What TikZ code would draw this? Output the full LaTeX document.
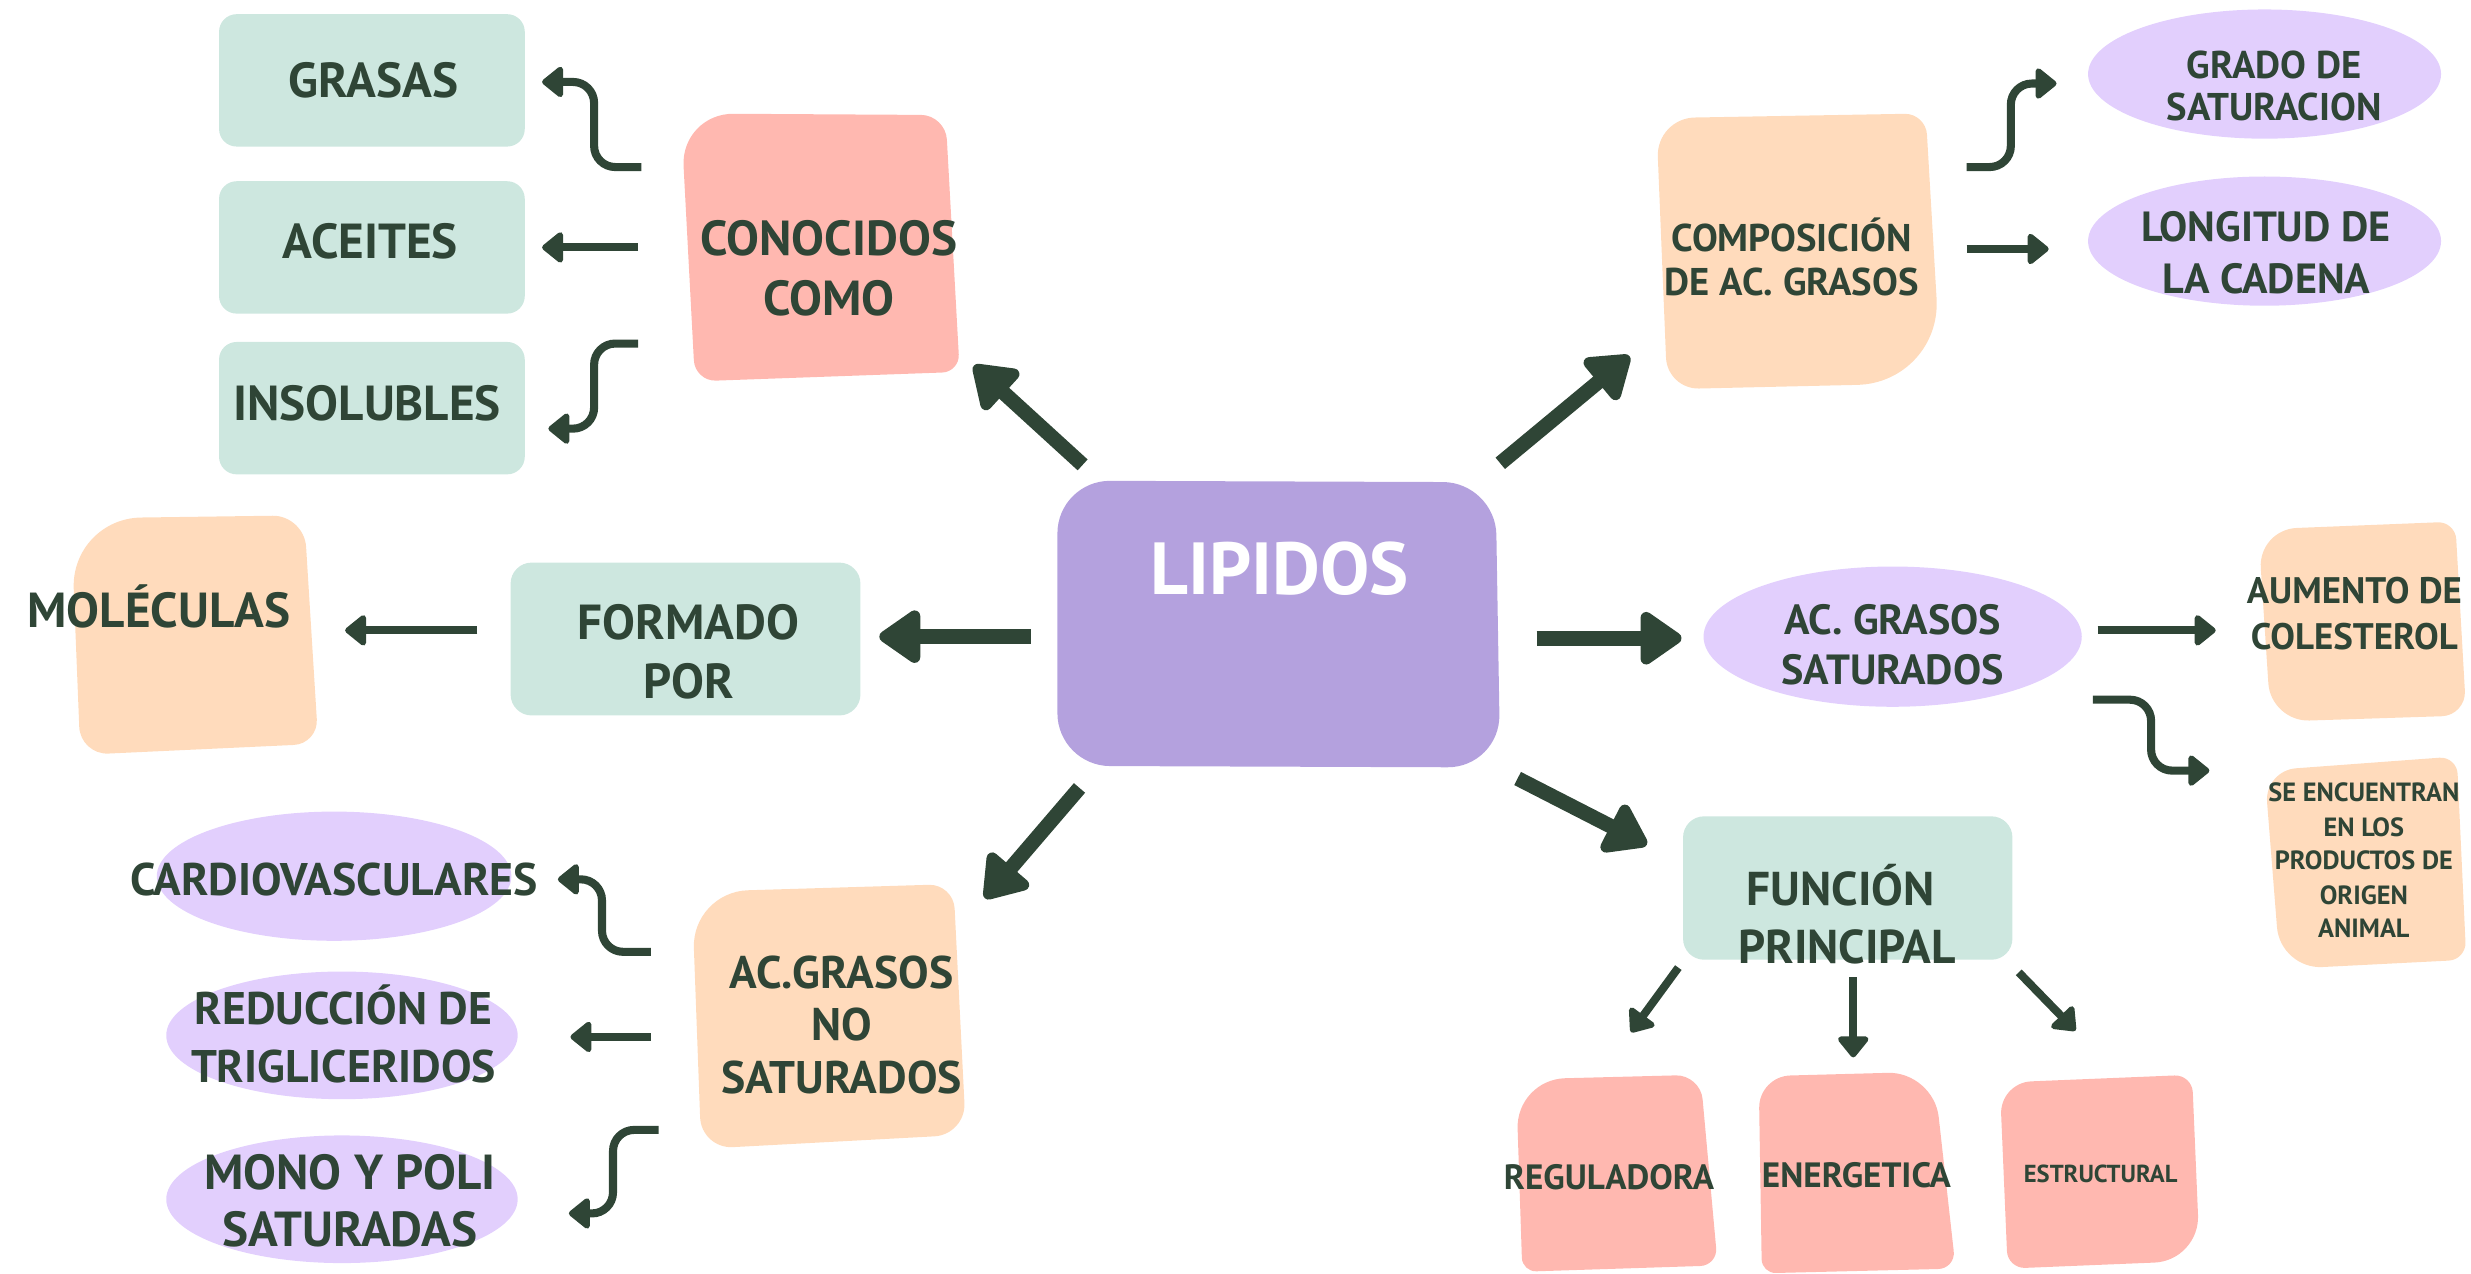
\documentclass[tikz,border=0pt]{standalone}
\usepackage{fontspec}
\setmainfont{PT Sans}
\usetikzlibrary{arrows.meta,calc,shapes.geometric,fit}
\definecolor{ink}{HTML}{2F4536}
\definecolor{mint}{HTML}{CDE7DF}
\definecolor{salmon}{HTML}{FFB8B0}
\definecolor{peach}{HTML}{FFDBBC}
\definecolor{lav}{HTML}{E2CFFD}
\definecolor{purp}{HTML}{B4A1DE}
% hand-drawn box: colour, TL, TR, BR, BL, radii TL TR BR BL
\newcommand\handbox[9]{\fill[#1] ($(#2)!0.5!(#5)$) [rounded corners=#6] -- (#2) [rounded corners=#7] -- (#3) [rounded corners=#8] -- (#4) [rounded corners=#9] -- (#5) -- cycle;}
\begin{document}
\begin{tikzpicture}[x=0.015759cm,y=-0.015759cm,
  box/.style={inner sep=0pt, rounded corners=5pt},
  frame/.style={inner sep=0pt},
  blob/.style={ellipse, inner sep=0pt, fill=lav},
  t/.style={text=ink, inner sep=0pt, anchor=base, yshift=-#1*0.35pt, font=\bfseries\fontsize{#1}{#1}\selectfont},
  thinarrow/.style={draw=ink, line width=2.3pt, -{Triangle[length=6.5pt,width=10pt,round]}},
  bigarrow/.style={draw=ink, line width=4.2pt, -{Triangle[length=13pt,width=17pt,round]}},
  elbow/.style={thinarrow, rounded corners=6pt}]
\useasboundingbox (0,0) rectangle (1568,808);

% ---------- boxes ----------
\node[box, fill=mint, fit={(139,9) (333,93)}] (grasas) {};
\node[t=14] (grasas-t) at (237,51) {GRASAS};
\node[box, fill=mint, fit={(139,115) (333,199)}] (aceites) {};
\node[t=14] (aceites-t) at (235,153) {ACEITES};
\node[box, fill=mint, fit={(139,217) (333,301)}] (insol) {};
\node[t=14] (insol-t) at (233,256) {INSOLUBLES};
\handbox{salmon}{432,72}{600,73}{609,236}{441,242}{15pt}{7pt}{5pt}{6pt}
\node[frame, fit={(432,72) (609,242)}] (conoc) {};
\node[t=14] (conoc-t1) at (526,151) {CONOCIDOS};
\node[t=14] (conoc-t2) at (526,189) {COMO};

\handbox{purp}{671,305}{949,306}{952,487}{671,486}{15pt}{15pt}{15pt}{15pt}
\node[frame, fit={(671,305) (952,487)}] (lip) {};
\node[t=21, text=white] (lip-t) at (812,361) {LIPIDOS};

\node[box, fill=mint, rounded corners=6pt, fit={(324,357) (546,454)}] (form) {};
\node[t=14] (form-t1) at (437,395) {FORMADO};
\node[t=14] (form-t2) at (437,432) {POR};
\handbox{peach}{45,329}{193,327}{202,472}{51,479}{20pt}{9pt}{7pt}{8pt}
\node[frame, fit={(45,327) (202,479)}] (mol) {};
\node[t=14] (mol-t) at (101,387) {MOLÉCULAS};

\handbox{peach}{439,566}{605,561}{613,720}{445,729}{16pt}{7pt}{9pt}{9pt}
\node[frame, fit={(439,561) (613,729)}] (nosat) {};
\node[t=13] (nosat-t1) at (534,617) {AC.GRASOS};
\node[t=13] (nosat-t2) at (534,650) {NO};
\node[t=13] (nosat-t3) at (534,684) {SATURADOS};
\node[blob, minimum width=225*0.015759cm, minimum height=82*0.015759cm] (cardio) at (212,556) {};
\node[t=13] (cardio-t) at (212,558) {CARDIOVASCULARES};
\node[blob, minimum width=223*0.015759cm, minimum height=81*0.015759cm] (reduc) at (217,657) {};
\node[t=13] (reduc-t1) at (218,640) {REDUCCIÓN DE};
\node[t=13] (reduc-t2) at (218,677) {TRIGLICERIDOS};
\node[blob, minimum width=223*0.015759cm, minimum height=81*0.015759cm] (mono) at (217,761) {};
\node[t=14] (mono-t1) at (222,744) {MONO Y POLI};
\node[t=14] (mono-t2) at (222,780) {SATURADAS};

\handbox{peach}{1051,75}{1222,72}{1232,243}{1058,247}{11pt}{6pt}{24pt}{9pt}
\node[frame, fit={(1050,72) (1232,247)}] (comp) {};
\node[t=11] (comp-t1) at (1137,151) {COMPOSICIÓN};
\node[t=11] (comp-t2) at (1137,179) {DE AC. GRASOS};
\node[blob, minimum width=224*0.015759cm, minimum height=82*0.015759cm] (grado) at (1437,47) {};
\node[t=11] (grado-t1) at (1443,41) {GRADO DE};
\node[t=11] (grado-t2) at (1443,68) {SATURACION};
\node[blob, minimum width=224*0.015759cm, minimum height=82*0.015759cm] (long) at (1437,153) {};
\node[t=12] (long-t1) at (1438,144) {LONGITUD DE};
\node[t=12] (long-t2) at (1438,177) {LA CADENA};

\node[blob, minimum width=240*0.015759cm, minimum height=89*0.015759cm] (sat) at (1201,404) {};
\node[t=12] (sat-t1) at (1201,393) {AC. GRASOS};
\node[t=12] (sat-t2) at (1201,425) {SATURADOS};
\handbox{peach}{1433,336}{1558,331}{1565,454}{1441,458}{11pt}{5pt}{7pt}{11pt}
\node[frame, fit={(1432,331) (1565,458)}] (aum) {};
\node[t=10.5] (aum-t1) at (1494,375) {AUMENTO DE};
\node[t=10.5] (aum-t2) at (1494,404) {COLESTEROL};
\handbox{peach}{1437,489}{1559,480}{1565,609}{1447,615}{9pt}{5pt}{5pt}{12pt}
\node[frame, fit={(1437,480) (1565,615)}] (seenc) {};
\node[t=7.5] (seenc-t1) at (1500,503) {SE ENCUENTRAN};
\node[t=7.5] (seenc-t2) at (1500,525) {EN LOS};
\node[t=7.5] (seenc-t3) at (1500,546) {PRODUCTOS DE};
\node[t=7.5] (seenc-t4) at (1500,568) {ORIGEN};
\node[t=7.5] (seenc-t5) at (1500,589) {ANIMAL};

\node[box, fill=mint, rounded corners=6pt, fit={(1068,518) (1277,609)}] (func) {};
\node[t=13.5] (func-t1) at (1168,564) {FUNCIÓN};
\node[t=13.5] (func-t2) at (1172,601) {PRINCIPAL};
\handbox{salmon}{962,685}{1079,682}{1090,803}{966,807}{14pt}{7pt}{5pt}{4pt}
\node[frame, fit={(961,682) (1090,807)}] (reg) {};
\node[t=10] (reg-t) at (1021,747) {REGULADORA};
\handbox{salmon}{1116,683}{1227,680}{1241,805}{1118,808}{9pt}{13pt}{5pt}{4pt}
\node[frame, fit={(1116,680) (1241,808)}] (ener) {};
\node[t=10] (ener-t) at (1178,746) {ENERGETICA};
\handbox{salmon}{1269,687}{1391,682}{1396,800}{1274,805}{9pt}{5pt}{13pt}{5pt}
\node[frame, fit={(1269,682) (1396,805)}] (estr) {};
\node[t=7] (estr-t) at (1333,745) {ESTRUCTURAL};

% ---------- connector end points ----------
\coordinate (l-conoc) at (687,295);  \coordinate (conoc-in) at (618,232);
\coordinate (l-comp) at (952,294);   \coordinate (comp-in) at (1034,226);
\coordinate (l-form) at (654,404);   \coordinate (form-in) at (558,404);
\coordinate (l-sat) at (975,405);    \coordinate (sat-in) at (1067,405);
\coordinate (l-nosat) at (685,500);  \coordinate (nosat-in) at (625,570);
\coordinate (l-func) at (963,494);   \coordinate (func-in) at (1045,536);

\coordinate (conoc-o1) at (407,106); \coordinate (grasas-in) at (344,52);
\coordinate (conoc-o2) at (405,157); \coordinate (aceites-in) at (344,157);
\coordinate (conoc-o3) at (405,218); \coordinate (insol-in) at (348,272);
\coordinate (form-o) at (303,400);   \coordinate (mol-in) at (219,400);
\coordinate (nosat-o1) at (413,604); \coordinate (cardio-in) at (354,558);
\coordinate (nosat-o2) at (413,658); \coordinate (reduc-in) at (362,658);
\coordinate (nosat-o3) at (418,717); \coordinate (mono-in) at (361,770);
\coordinate (comp-o1) at (1248,106); \coordinate (grado-in) at (1305,53);
\coordinate (comp-o2) at (1248,158); \coordinate (long-in) at (1300,158);
\coordinate (sat-o1) at (1331,400);  \coordinate (aum-in) at (1406,400);
\coordinate (sat-o2) at (1328,444);  \coordinate (seenc-in) at (1402,489);
\coordinate (func-o1) at (1065,614); \coordinate (reg-in) at (1035,655);
\coordinate (func-o2) at (1176,620); \coordinate (ener-in) at (1176,671);
\coordinate (func-o3) at (1281,617); \coordinate (estr-in) at (1317,654);

% ---------- connectors ----------
\draw[bigarrow] (l-conoc) -- (conoc-in);
\draw[bigarrow] (l-comp) -- (comp-in);
\draw[bigarrow] (l-form) -- (form-in);
\draw[bigarrow] (l-sat) -- (sat-in);
\draw[bigarrow] (l-nosat) -- (nosat-in);
\draw[bigarrow] (l-func) -- (func-in);

\draw[elbow] (conoc-o1) -| ($(grasas-in)+(33,0)$) -- (grasas-in);
\draw[thinarrow] (conoc-o2) -- (aceites-in);
\draw[elbow] (conoc-o3) -| ($(insol-in)+(29,0)$) -- (insol-in);
\draw[thinarrow] (form-o) -- (mol-in);
\draw[elbow] (nosat-o1) -| ($(cardio-in)+(28,0)$) -- (cardio-in);
\draw[thinarrow] (nosat-o2) -- (reduc-in);
\draw[elbow] (nosat-o3) -| ($(mono-in)+(28,0)$) -- (mono-in);
\draw[elbow] (comp-o1) -| ($(grado-in)+(-29,0)$) -- (grado-in);
\draw[thinarrow] (comp-o2) -- (long-in);
\draw[thinarrow] (sat-o1) -- (aum-in);
\draw[elbow] (sat-o2) -| ($(seenc-in)+(-37,0)$) -- (seenc-in);
\draw[thinarrow] (func-o1) -- (reg-in);
\draw[thinarrow] (func-o2) -- (ener-in);
\draw[thinarrow] (func-o3) -- (estr-in);
\end{tikzpicture}
\end{document}
